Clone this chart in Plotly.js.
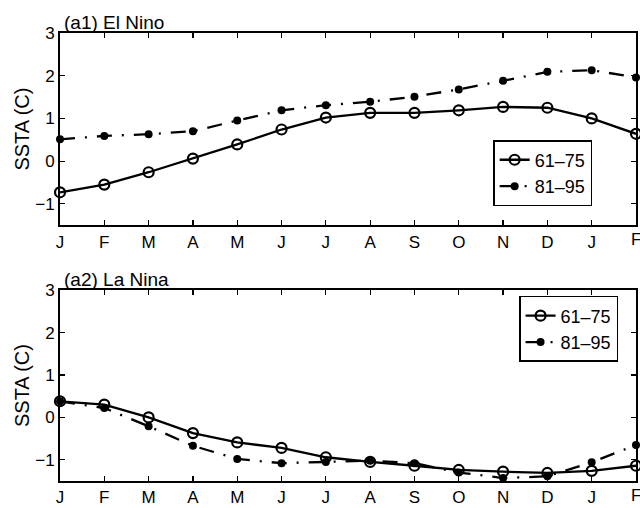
<!DOCTYPE html>
<html>
<head>
<meta charset="utf-8">
<script src="https://cdn.plot.ly/plotly-3.0.1.min.js"></script>
<style>html,body{margin:0;padding:0;background:#fff;}#chart{width:640px;height:508px;}</style>
</head>
<body>
<div id="chart"></div>
<script>
const months = ['J','F','M','A','M','J','J','A','S','O','N','D','J','F'];
const elNino_6175 = [-0.73,-0.55,-0.26,0.06,0.39,0.74,1.02,1.13,1.13,1.19,1.27,1.25,1.00,0.64];
const elNino_8195 = [0.51,0.59,0.63,0.70,0.95,1.19,1.31,1.39,1.51,1.68,1.88,2.09,2.13,1.96];
const laNina_6175 = [0.38,0.30,0.00,-0.37,-0.59,-0.72,-0.94,-1.05,-1.14,-1.24,-1.28,-1.31,-1.26,-1.14];
const laNina_8195 = [0.38,0.22,-0.21,-0.67,-0.98,-1.08,-1.05,-1.02,-1.08,-1.30,-1.43,-1.39,-1.06,-0.65];
const seriesNames = ['61–75','81–95'];
const panelTitles = ['(a1) El Nino','(a2) La Nina'];
const yTicks = [-1,0,1,2,3];

const xIdx = months.map((m,i)=>i);
const font = 'Arial, "Liberation Sans", Helvetica, sans-serif';

function solid(y, xa, ya, lg){
  return {x:xIdx, y:y, xaxis:xa, yaxis:ya, name:seriesNames[0], legend:lg, showlegend:true, cliponaxis:false,
    mode:'lines+markers', line:{color:'#000', width:2.3},
    marker:{symbol:'circle-open', size:10, color:'#000', line:{width:2.2, color:'#000'}}};
}
function dashdot(y, xa, ya, lg){
  return {x:xIdx, y:y, xaxis:xa, yaxis:ya, name:seriesNames[1], legend:lg, showlegend:true, cliponaxis:false,
    mode:'lines+markers', line:{color:'#000', width:2.3, dash:'15px,10px,2px,10px'},
    marker:{symbol:'circle', size:8, color:'#000'}};
}

const data = [
  solid(elNino_6175,'x','y','legend'),
  dashdot(elNino_8195,'x','y','legend'),
  solid(laNina_6175,'x2','y2','legend2'),
  dashdot(laNina_8195,'x2','y2','legend2')
];

function xaxis(anchor){
  return {anchor:anchor, range:[0,13], tickmode:'array', tickvals:xIdx, ticktext:months,
    ticks:'inside', ticklen:5, tickwidth:1.2, tickcolor:'#000', showline:true, linecolor:'#000', linewidth:2,
    mirror:'ticks', showgrid:false, zeroline:false, tickfont:{family:font, size:17, color:'#000'}};
}
function yaxis(anchor, domain){
  return {anchor:anchor, domain:domain, range:[-1.5,3], tickmode:'array', tickvals:yTicks,
    ticks:'inside', ticklen:5, tickwidth:1.2, tickcolor:'#000', showline:true, linecolor:'#000', linewidth:2,
    mirror:'ticks', showgrid:false, zeroline:false, tickfont:{family:font, size:17, color:'#000'},
    title:{text:'SSTA (C)', font:{family:font, size:20, color:'#000'}, standoff:0}};
}

const legendStyle = (x,y)=>({x:x, y:y, xanchor:'left', yanchor:'top', bgcolor:'#fff', bordercolor:'#000', borderwidth:1.5,
  font:{family:font, size:18, color:'#000'}, tracegroupgap:0, itemwidth:30});

const layout = {
  width:640, height:508,
  margin:{l:60, r:4, t:33, b:27},
  paper_bgcolor:'#fff', plot_bgcolor:'#fff',
  showlegend:true,
  xaxis: xaxis('y'),
  yaxis: yaxis('x',[0.571,1]),
  xaxis2: xaxis('y2'),
  yaxis2: yaxis('x2',[0,0.426]),
  legend: legendStyle(0.752,0.761),
  legend2: legendStyle(0.797,0.413),
  annotations:[
    {text:panelTitles[0], xref:'paper', yref:'paper', x:0.004, y:1, xanchor:'left', yanchor:'bottom', showarrow:false,
     font:{family:font, size:19, color:'#000'}, yshift:-2},
    {text:panelTitles[1], xref:'paper', yref:'paper', x:0.004, y:0.426, xanchor:'left', yanchor:'bottom', showarrow:false,
     font:{family:font, size:19, color:'#000'}, yshift:-2},
    {text:months[13], xref:'x', yref:'paper', x:xIdx[13], y:0.571, xanchor:'center', yanchor:'top', showarrow:false,
     font:{family:font, size:17, color:'#000'}, yshift:-3},
    {text:months[13], xref:'x2', yref:'paper', x:xIdx[13], y:0, xanchor:'center', yanchor:'top', showarrow:false,
     font:{family:font, size:17, color:'#000'}, yshift:-3}
  ]
};

Plotly.newPlot('chart', data, layout, {displayModeBar:false, staticPlot:true});
</script>
</body>
</html>
